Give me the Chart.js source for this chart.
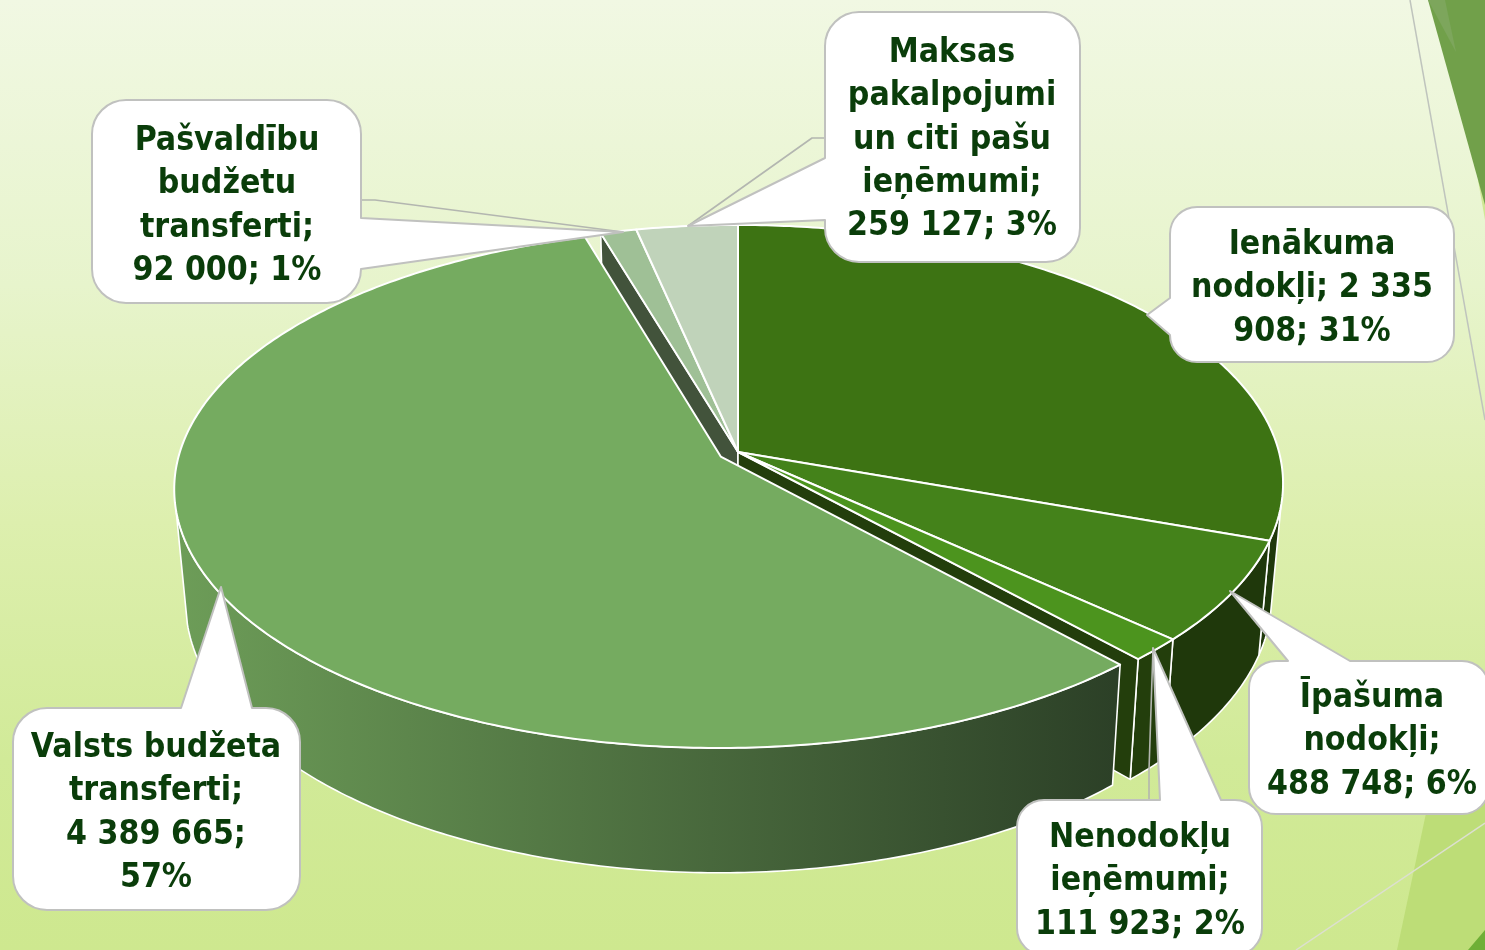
<!DOCTYPE html>
<html><head><meta charset="utf-8">
<style>html,body{margin:0;padding:0;background:#dff0b5;overflow:hidden}canvas{display:block}</style>
<script src="https://cdn.jsdelivr.net/npm/chart.js@4"></script></head>
<body><canvas id="c" width="1485" height="950"></canvas>
<script>
const categories = ["Ienākuma nodokļi","Īpašuma nodokļi","Nenodokļu ieņēmumi","Valsts budžeta transferti","Pašvaldību budžetu transferti","Maksas pakalpojumi un citi pašu ieņēmumi"];
const values = [2335908,488748,111923,4389665,92000,259127];
const topColors = ["#3d7313","#44821a","#4c941e","#75ab60","#9fc096","#c0d3ba"];
const wallColors = ["#1f380b","#1f380b","#233e0c","#2c4027","#42533b","#55654f"];
const explode = [0,0,0,17,0,0];
const labelLines = [
  ["Ienākuma","nodokļi; 2 335","908; 31%"],
  ["Īpašuma","nodokļi;","488 748; 6%"],
  ["Nenodokļu","ieņēmumi;","111 923; 2%"],
  ["Valsts budžeta","transferti;","4 389 665;","57%"],
  ["Pašvaldību","budžetu","transferti;","92 000; 1%"],
  ["Maksas","pakalpojumi","un citi pašu","ieņēmumi;","259 127; 3%"]
];
// callout geometry: box, radius, text centre, first baseline, pointer polygon, optional leader
const callouts = [
  {b:[1170,207,1454,362],r:27,cx:1312,y0:254,side:'l',p:[[1170,298],[1147,315],[1170,335]]},
  {b:[1249,661,1489,814],r:27,cx:1372,y0:707,side:'t',p:[[1288,661],[1230,591],[1350,661]]},
  {b:[1017,800,1262,955],r:27,cx:1140,y0:847,side:'t',p:[[1160,800],[1153,648],[1221,800]],l:[[1149,800],[1149,770],[1153,648]]},
  {b:[13,708,300,910],r:34,cx:156,y0:757,side:'t',p:[[181,708],[221,587],[252,708]]},
  {b:[92,100,361,303],r:34,cx:227,y0:150,side:'r',p:[[361,218],[623,232],[361,269]],l:[[361,200],[375,200],[623,232]]},
  {b:[825,12,1080,262],r:34,cx:952,y0:62,side:'l',p:[[825,158],[688,226],[825,220]],l:[[825,138],[812,138],[688,226]]}
];
const LH = 43.3;

// projection of the pie's unit disc on to the slanted view
const P = {x0:738,y0:452,A:541,B:254.7,k:0.1218,sx:0.98,sy:1.05,d:110};
const top3 = (u,v)=>{const q=1-P.k*v;return [P.x0+P.A*u/q,P.y0+P.B*v/q];};
const bot3 = (u,v)=>{const q=1-P.k*v;return [P.x0+P.sx*P.A*u/q,P.y0+P.d+P.sy*P.B*v/q];};
const shift = arc=>{const m=(arc.startAngle+arc.endAngle)/2,e=(arc.options.offset||0)/arc.outerRadius;return [e*Math.cos(m),e*Math.sin(m)];};
function rim(arc,a0,a1,fn){const [ox,oy]=shift(arc),n=Math.max(2,Math.ceil(Math.abs(a1-a0)/0.012)),o=[];
  for(let i=0;i<=n;i++){const a=a0+(a1-a0)*i/n;o.push(fn(Math.cos(a)+ox,Math.sin(a)+oy));}return o;}
function poly(ctx,pts,fill,stroke,w){ctx.beginPath();pts.forEach((p,i)=>i?ctx.lineTo(p[0],p[1]):ctx.moveTo(p[0],p[1]));ctx.closePath();
  ctx.fillStyle=fill;ctx.fill();if(stroke){ctx.strokeStyle=stroke;ctx.lineWidth=w;ctx.lineJoin='round';ctx.stroke();}}
const LO=12*Math.PI/180,HI=168*Math.PI/180;
function outerWall(ctx,arc,fill){const a0=Math.max(arc.startAngle,LO),a1=Math.min(arc.endAngle,HI);if(a1<=a0)return;
  poly(ctx,rim(arc,a0,a1,top3).concat(rim(arc,a1,a0,bot3)),fill,'#ffffff',1.6);}
function cutFace(ctx,arc,a,fill){const [ox,oy]=shift(arc);
  const t=top3(Math.cos(a)+ox,Math.sin(a)+oy),b=bot3(Math.cos(a)+ox,Math.sin(a)+oy);
  poly(ctx,[top3(ox,oy),t,b,bot3(ox,oy)],fill,'#ffffff',1.6);}
function topFace(ctx,arc,fill){const [ox,oy]=shift(arc);poly(ctx,[top3(ox,oy)].concat(rim(arc,arc.startAngle,arc.endAngle,top3)),fill,'#ffffff',2);}

const pie3d={id:'pie3d',
  beforeDraw(chart){const c=chart.ctx,W=chart.width,H=chart.height;
    const g=c.createLinearGradient(0,0,0,H);
    g.addColorStop(0,'#f1f8e3');g.addColorStop(.3,'#e7f4cc');g.addColorStop(.55,'#ddefae');g.addColorStop(.8,'#d1ea98');g.addColorStop(1,'#cee88f');
    c.fillStyle=g;c.fillRect(0,0,W,H);
    poly(c,[[1478,180],[1485,190],[1485,220]],'#cfe795');
    poly(c,[[1428,0],[1485,0],[1485,205]],'#71a04a');
    poly(c,[[1428,0],[1445,0],[1456,52]],'#7da65c');
    poly(c,[[1450,700],[1485,700],[1485,950],[1397,950]],'#bddd77');
    poly(c,[[1485,930],[1485,950],[1468,950]],'#6faf36');
    c.strokeStyle='#bfc4bd';c.lineWidth=1.5;c.beginPath();c.moveTo(1410,0);c.lineTo(1485,420);c.stroke();
    c.strokeStyle='#dcdfd0';c.lineWidth=1.5;c.beginPath();c.moveTo(1296,950);c.lineTo(1485,823);c.stroke();
  },
  beforeDatasetDraw(chart){const c=chart.ctx,arcs=chart.getDatasetMeta(0).data,x=explode.findIndex(v=>v>0);
    arcs.forEach((a,i)=>{if(i!==x)outerWall(c,a,wallColors[i]);});
    cutFace(c,arcs[x+1],arcs[x+1].startAngle,wallColors[x+1]);
    cutFace(c,arcs[x-1],arcs[x-1].endAngle,wallColors[x-1]);
    arcs.forEach((a,i)=>{if(i!==x)topFace(c,a,topColors[i]);});
    const g=c.createLinearGradient(176,0,1115,0);g.addColorStop(0,'#6d9d58');g.addColorStop(1,wallColors[x]);
    outerWall(c,arcs[x],g);
    topFace(c,arcs[x],topColors[x]);
    return false;
  },
  afterDraw(chart){const c=chart.ctx;
    callouts.forEach((o,i)=>{
      const [l,t,r,b]=o.b,R=o.r;
      if(o.l){c.strokeStyle='#b3b6b0';c.lineWidth=1.6;c.beginPath();o.l.forEach((p,j)=>j?c.lineTo(p[0],p[1]):c.moveTo(p[0],p[1]));c.stroke();}
      c.beginPath();c.moveTo(l+R,t);
      if(o.side==='t')o.p.forEach(p=>c.lineTo(p[0],p[1]));
      c.arcTo(r,t,r,t+R,R);
      if(o.side==='r')o.p.forEach(p=>c.lineTo(p[0],p[1]));
      c.arcTo(r,b,r-R,b,R);c.arcTo(l,b,l,b-R,R);
      if(o.side==='l')[...o.p].reverse().forEach(p=>c.lineTo(p[0],p[1]));
      c.arcTo(l,t,l+R,t,R);c.closePath();
      c.fillStyle='#fff';c.fill();c.strokeStyle='#c0c1bf';c.lineWidth=2;c.lineJoin='round';c.stroke();
      c.fillStyle='#0a3d0a';c.font='700 33.5px "DejaVu Sans Condensed"';c.textAlign='center';c.textBaseline='alphabetic';
      labelLines[i].forEach((s,j)=>c.fillText(s,o.cx,o.y0+j*LH));
    });
  }
};

new Chart(document.getElementById('c'),{
  type:'pie',
  data:{labels:categories,datasets:[{data:values,backgroundColor:topColors,offset:explode,borderColor:'#ffffff',borderWidth:2}]},
  options:{responsive:false,animation:false,layout:{padding:0},
    plugins:{legend:{display:false},tooltip:{enabled:false},title:{display:false}}},
  plugins:[pie3d]
});
</script></body></html>
